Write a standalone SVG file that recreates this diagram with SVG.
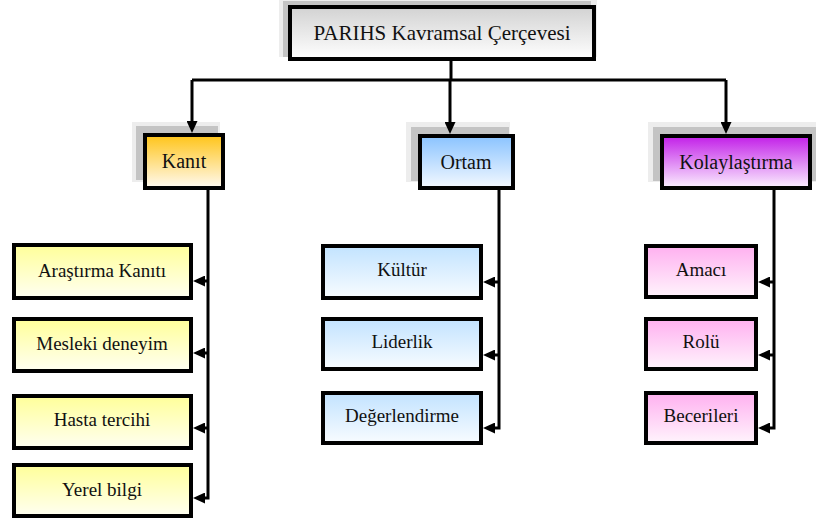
<svg xmlns="http://www.w3.org/2000/svg" width="816" height="524" viewBox="0 0 816 524">
<style>
  .box { stroke: #000; stroke-width: 4; }
  .sh1 { fill: #ededed; }
  .sh2 { fill: #c4c4c4; }
  text { font-family: "Liberation Serif", "DejaVu Serif", "Times New Roman", serif; fill: #111; text-anchor: middle; dominant-baseline: central; }
  .t1 { font-size: 21px; }
  .t2 { font-size: 20px; }
  .t3 { font-size: 19px; }
  .c { fill: none; stroke: #000; stroke-width: 3; marker-end: url(#ah); }
  .cl { fill: none; stroke: #000; stroke-width: 3; }
</style>
<defs>
  <marker id="ah" markerUnits="userSpaceOnUse" markerWidth="12" markerHeight="11" refX="2" refY="5.5" orient="auto">
    <path d="M0,0 L12,5.5 L0,11 z" fill="#000"/>
  </marker>
  <linearGradient id="gTitle" x1="0" y1="0" x2="0" y2="1"><stop offset="0" stop-color="#d2d2d2"/><stop offset="1" stop-color="#ffffff"/></linearGradient>
  <linearGradient id="gKanit" x1="0" y1="0" x2="0" y2="1"><stop offset="0" stop-color="#ffc417"/><stop offset="1" stop-color="#fffaf2"/></linearGradient>
  <linearGradient id="gOrtam" x1="0" y1="0" x2="0" y2="1"><stop offset="0" stop-color="#8ac3ff"/><stop offset="1" stop-color="#f4f9ff"/></linearGradient>
  <linearGradient id="gKolay" x1="0" y1="0" x2="0" y2="1"><stop offset="0" stop-color="#c21ee8"/><stop offset="1" stop-color="#fbf0ff"/></linearGradient>
  <linearGradient id="gY" x1="0" y1="0" x2="0" y2="1"><stop offset="0" stop-color="#ffff99"/><stop offset="1" stop-color="#fffff2"/></linearGradient>
  <linearGradient id="gB" x1="0" y1="0" x2="0" y2="1"><stop offset="0" stop-color="#c2e3ff"/><stop offset="1" stop-color="#f8fcff"/></linearGradient>
  <linearGradient id="gP" x1="0" y1="0" x2="0" y2="1"><stop offset="0" stop-color="#ffb0f0"/><stop offset="1" stop-color="#fff4fc"/></linearGradient>
</defs>

<g id="title">
  <rect class="sh1" x="279" y="-3" width="318" height="60"/>
  <rect class="sh2" x="283" y="1" width="308" height="56"/>
  <rect class="box" x="290" y="7" width="304" height="52" fill="url(#gTitle)"/>
  <text class="t1" x="442" y="33">PARIHS Kavramsal Çerçevesi</text>
</g>

<g id="kanit">
  <rect class="sh1" x="132" y="122" width="88" height="60"/>
  <rect class="sh2" x="136" y="126" width="82" height="54"/>
  <rect class="box" x="145" y="135" width="78" height="53" fill="url(#gKanit)"/>
  <text class="t2" x="184" y="161">Kanıt</text>
</g>
<g id="ortam">
  <rect class="sh1" x="406" y="122" width="104" height="60"/>
  <rect class="sh2" x="411" y="127" width="98" height="54"/>
  <rect class="box" x="420" y="136" width="93" height="52" fill="url(#gOrtam)"/>
  <text class="t2" x="466" y="162">Ortam</text>
</g>
<g id="kolaylastirma">
  <rect class="sh1" x="648" y="122" width="168" height="60"/>
  <rect class="sh2" x="653" y="127" width="163" height="54"/>
  <rect class="box" x="662" y="136" width="148" height="52" fill="url(#gKolay)"/>
  <text class="t2" x="736" y="162">Kolaylaştırma</text>
</g>

<g id="arastirma-kaniti">
  <rect class="box" x="14" y="245" width="177" height="53" fill="url(#gY)"/>
  <text class="t3" x="102" y="270">Araştırma Kanıtı</text>
</g>
<g id="mesleki-deneyim">
  <rect class="box" x="14" y="319" width="177" height="52" fill="url(#gY)"/>
  <text class="t3" x="102" y="343">Mesleki deneyim</text>
</g>
<g id="hasta-tercihi">
  <rect class="box" x="14" y="396" width="177" height="52" fill="url(#gY)"/>
  <text class="t3" x="102" y="419">Hasta tercihi</text>
</g>
<g id="yerel-bilgi">
  <rect class="box" x="14" y="465" width="177" height="51" fill="url(#gY)"/>
  <text class="t3" x="102" y="489">Yerel bilgi</text>
</g>

<g id="kultur">
  <rect class="box" x="323" y="246" width="158" height="52" fill="url(#gB)"/>
  <text class="t3" x="402" y="269">Kültür</text>
</g>
<g id="liderlik">
  <rect class="box" x="323" y="319" width="158" height="50" fill="url(#gB)"/>
  <text class="t3" x="402" y="341">Liderlik</text>
</g>
<g id="degerlendirme">
  <rect class="box" x="323" y="393" width="158" height="50" fill="url(#gB)"/>
  <text class="t3" x="402" y="415">Değerlendirme</text>
</g>

<g id="amaci">
  <rect class="box" x="646" y="246" width="110" height="51" fill="url(#gP)"/>
  <text class="t3" x="701" y="269">Amacı</text>
</g>
<g id="rolu">
  <rect class="box" x="646" y="319" width="110" height="50" fill="url(#gP)"/>
  <text class="t3" x="701" y="341">Rolü</text>
</g>
<g id="becerileri">
  <rect class="box" x="646" y="393" width="110" height="50" fill="url(#gP)"/>
  <text class="t3" x="701" y="415">Becerileri</text>
</g>

<g id="connectors">
  <path class="cl" d="M451,61 V80"/>
  <path class="cl" d="M192,80 H726"/>
  <path class="c" d="M192,80 V123"/>
  <path class="c" d="M450,80 V124"/>
  <path class="c" d="M726,80 V124"/>
  <path class="c" d="M208,190 V498 H203"/>
  <path class="c" d="M208,281 H203"/>
  <path class="c" d="M208,353 H203"/>
  <path class="c" d="M208,428 H203"/>
  <path class="c" d="M499,189 V428 H493"/>
  <path class="c" d="M499,282 H493"/>
  <path class="c" d="M499,355 H493"/>
  <path class="c" d="M774,190 V428 H768"/>
  <path class="c" d="M774,282 H768"/>
  <path class="c" d="M774,355 H768"/>
</g>
</svg>
